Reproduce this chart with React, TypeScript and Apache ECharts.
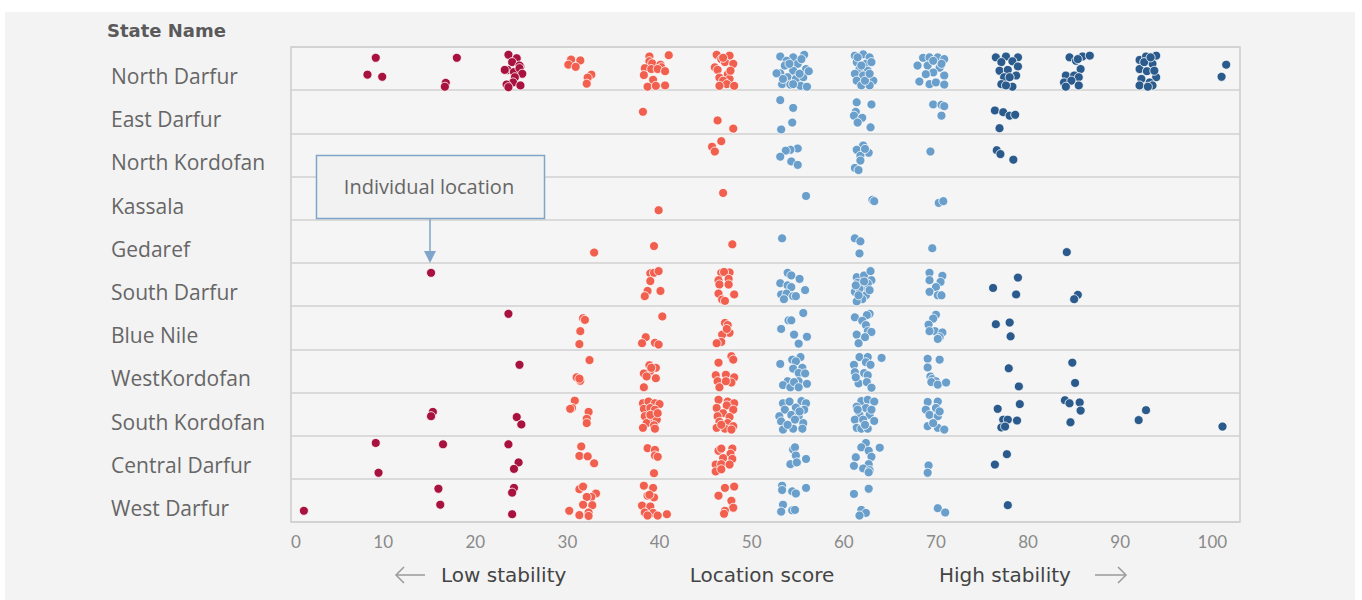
import React, { useEffect, useRef } from "react";
import * as echarts from "echarts";

const states = [
  "North Darfur", "East Darfur", "North Kordofan", "Kassala", "Gedaref", "South Darfur",
  "Blue Nile", "WestKordofan", "South Kordofan", "Central Darfur", "West Darfur",
];

// each point: [location score, vertical jitter within the row (-0.5..0.5)]
const northDarfur: number[][] = [
  [9.2,-0.25],[8.3,0.14],[9.9,0.19],[18.0,-0.25],[16.8,0.33],[16.7,0.42],
  [23.6,-0.32],[24.5,-0.24],[24.0,-0.15],[24.9,-0.05],[24.8,-0.07],[23.5,0.03],[23.2,0.03],[24.2,0.08],[24.8,-0.01],[25.1,0.12],[24.3,0.2],[24.1,0.32],[23.4,0.37],[24.9,0.39],[23.6,0.43],
  [30.4,-0.21],[31.4,-0.19],[30.1,-0.09],[30.9,-0.04],[32.6,0.14],[32.2,0.21],[32.1,0.35],
  [38.9,-0.28],[41.0,-0.31],[38.9,-0.17],[39.2,-0.12],[40.1,-0.09],[40.2,-0.03],[38.4,-0.01],[39.1,0.01],[39.8,0.01],[40.6,0.06],[38.3,0.15],[39.3,0.26],[38.7,0.42],[39.6,0.4],[40.6,0.39],
  [46.2,-0.32],[47.6,-0.3],[46.7,-0.22],[47.1,-0.15],[48.0,-0.11],[46.0,-0.03],[46.3,0.03],[47.4,0.13],[46.5,0.21],[47.6,0.24],[46.9,0.28],[47.3,0.36],[46.5,0.4],[48.1,0.4],[46.9,-0.25],[47.7,0.05],
  [53.1,-0.28],[54.5,-0.26],[55.7,-0.32],[53.8,-0.18],[55.0,-0.11],[55.9,0.01],[53.1,0.11],[54.5,0.05],[53.9,0.2],[54.8,0.24],[55.6,0.2],[53.3,0.36],[54.2,0.37],[55.3,0.4],[56.0,0.42],[53.6,-0.07],[55.4,-0.22],[52.7,0.11],[56.2,0.06],[54.5,0.36],[54.1,-0.11],[55.2,0.12],[53.4,0.24],
  [61.2,-0.3],[62.1,-0.33],[62.8,-0.26],[61.4,-0.15],[62.4,-0.11],[63.0,-0.15],[61.7,0.01],[62.6,0.05],[61.2,0.12],[62.1,0.16],[63.2,0.28],[61.4,0.28],[61.9,0.39],[62.8,0.39],[61.5,-0.26],[62.3,0.28],[61.9,-0.07],[62.8,0.12],
  [68.6,-0.25],[69.3,-0.26],[70.2,-0.26],[70.9,-0.22],[68.0,-0.07],[69.1,-0.07],[70.4,-0.02],[69.7,0.09],[70.9,0.16],[68.2,0.3],[69.3,0.36],[70.0,0.32],[70.9,0.37],[68.9,0.13],[70.6,-0.11],[69.7,-0.18],
  [76.5,-0.26],[77.6,-0.28],[78.9,-0.26],[78.3,-0.17],[77.1,-0.15],[76.9,0.05],[77.8,0.03],[78.9,-0.05],[77.4,0.2],[78.7,0.16],[77.1,0.36],[78.3,0.42],[77.6,0.39],[78.0,0.2],
  [84.5,-0.26],[85.9,-0.28],[86.7,-0.3],[85.2,-0.18],[85.7,0.01],[84.1,0.16],[85.0,0.16],[85.5,0.2],[83.9,0.32],[84.7,0.28],[85.5,0.39],[84.1,0.42],[85.4,-0.22],
  [92.1,-0.2],[92.8,-0.28],[93.9,-0.3],[93.5,-0.11],[92.1,0.01],[92.9,0.06],[93.9,0.2],[92.3,0.24],[93.2,0.32],[92.1,0.39],[93.5,0.39],[92.6,-0.15],[93.7,0.05],[93.0,0.42],[93.3,-0.26],
  [101.5,-0.09],[101.0,0.19],
];
const eastDarfur: number[][] = [
  [38.2,0.0],[46.3,0.2],[48.0,0.39],[53.1,-0.27],[54.5,-0.09],[54.4,0.25],[53.2,0.41],
  [61.4,-0.22],[63.0,-0.17],[61.3,0.0],[61.1,0.09],[62.0,0.14],[61.5,0.25],[62.9,0.36],
  [69.7,-0.17],[70.6,-0.16],[70.9,-0.13],[70.6,0.09],[76.4,-0.03],[77.3,0.01],[78.0,0.09],[78.6,0.07],[76.9,0.38],
];
const northKordofan: number[][] = [
  [46.7,-0.32],[45.7,-0.19],[46.0,-0.08],[55.0,-0.15],[54.2,-0.12],[53.7,-0.1],[53.1,0.04],[54.3,0.15],[55.0,0.23],
  [62.1,-0.22],[61.4,-0.12],[62.7,-0.05],[61.8,0.02],[61.8,0.13],[61.2,0.3],[61.6,0.35],[62.3,-0.14],
  [69.4,-0.08],[76.6,-0.11],[77.0,-0.02],[78.4,0.11],
];
const kassala: number[][] = [
  [46.9,-0.12],[39.9,0.28],[55.9,-0.05],[63.1,0.04],[63.3,0.07],[70.3,0.11],[70.8,0.07],
];
const gedaref: number[][] = [
  [32.9,0.26],[39.4,0.11],[47.9,0.07],[53.3,-0.07],[61.2,-0.07],[61.8,0.0],[61.7,0.28],[69.6,0.16],[84.2,0.25],
];
const southDarfur: number[][] = [
  [15.2,-0.27],
  [39.0,-0.26],[39.4,-0.27],[39.9,-0.31],[39.0,-0.08],[38.7,0.15],[40.1,0.15],[38.4,0.27],
  [46.7,-0.27],[47.6,-0.28],[47.0,-0.29],[46.4,-0.1],[47.5,-0.13],[46.5,0.0],[47.5,0.0],[46.4,0.21],[48.1,0.23],[46.8,0.35],[47.1,0.38],
  [53.9,-0.27],[54.3,-0.21],[55.2,-0.13],[53.1,-0.03],[53.9,0.02],[54.3,0.06],[55.8,0.13],[53.2,0.23],[53.8,0.21],[54.5,0.27],[53.5,0.34],[54.8,0.27],
  [61.4,-0.17],[62.2,-0.21],[62.9,-0.31],[63.0,-0.1],[61.5,-0.04],[62.4,0.06],[61.2,0.17],[62.4,0.25],[62.0,0.34],[61.4,0.39],[61.7,0.1],[62.6,-0.02],[61.3,0.02],[62.2,-0.07],[62.8,0.13],[61.6,0.25],
  [69.3,-0.27],[70.7,-0.2],[69.3,-0.1],[70.5,-0.06],[70.0,0.06],[69.3,0.17],[70.2,0.25],[70.6,0.25],
  [78.9,-0.16],[76.2,0.08],[78.7,0.23],[85.4,0.24],[85.0,0.34],
];
const blueNile: number[][] = [
  [23.6,-0.32],
  [31.7,-0.22],[31.9,-0.18],[31.4,0.08],[31.3,0.38],
  [40.3,-0.26],[38.5,0.22],[38.1,0.36],[39.5,0.35],[39.9,0.39],
  [47.1,-0.11],[47.4,-0.06],[47.6,0.12],[46.8,0.16],[46.7,0.33],[46.2,0.36],[47.3,0.03],
  [55.6,-0.34],[54.0,-0.17],[54.3,-0.17],[53.2,0.03],[54.6,0.16],[56.0,0.21],[55.1,0.37],
  [61.2,-0.24],[62.8,-0.32],[62.5,-0.29],[62.0,-0.16],[62.4,-0.06],[62.6,0.08],[63.0,0.1],[61.4,0.16],[62.3,0.22],[61.6,0.36],
  [70.0,-0.3],[69.7,-0.21],[69.2,-0.07],[69.9,0.08],[70.7,0.11],[70.4,0.22],[70.2,0.26],[69.3,0.08],
  [76.5,-0.08],[78.0,-0.12],[78.1,0.2],
];
const westKordofan: number[][] = [
  [24.8,-0.14],
  [32.4,-0.25],[31.0,0.15],[31.4,0.23],[31.3,0.18],
  [38.9,-0.13],[39.6,-0.07],[39.0,0.0],[38.3,0.06],[38.6,0.13],[39.6,0.17],[38.3,0.38],[39.1,-0.07],
  [47.8,-0.34],[48.0,-0.26],[46.4,-0.19],[46.1,0.1],[47.2,0.09],[48.1,0.15],[46.7,0.27],[46.3,0.24],[47.8,0.27],[46.5,0.38],[47.2,0.24],
  [53.1,-0.16],[54.4,-0.26],[55.3,-0.32],[54.8,-0.22],[54.5,-0.05],[55.5,-0.07],[55.1,0.05],[55.8,0.06],[53.9,0.24],[53.4,0.33],[54.2,0.38],[55.1,0.24],[54.6,0.26],[56.0,0.3],[55.1,0.38],
  [61.7,-0.32],[62.6,-0.32],[64.1,-0.3],[62.4,-0.2],[62.9,-0.14],[61.1,-0.14],[61.2,0.03],[62.2,0.05],[62.6,0.1],[61.6,0.29],[62.5,0.26],[63.0,0.39],[61.3,0.15],
  [69.1,-0.28],[70.4,-0.26],[69.1,-0.08],[69.4,0.13],[69.6,0.19],[70.0,0.24],[69.5,0.26],[70.2,0.32],[71.1,0.27],
  [77.9,-0.06],[79.0,0.36],[84.8,-0.19],[85.1,0.28],
];
const southKordofan: number[][] = [
  [15.4,-0.05],[15.2,0.05],[24.5,0.07],[25.0,0.24],
  [30.8,-0.31],[30.5,-0.14],[30.3,-0.12],[32.3,-0.05],[32.1,0.11],[32.1,0.21],
  [38.2,-0.25],[38.8,-0.29],[39.5,-0.25],[40.0,-0.23],[38.3,-0.12],[39.0,-0.14],[39.5,-0.1],[38.4,0.05],[39.1,0.09],[39.7,0.13],[38.6,0.21],[39.4,0.26],[38.2,0.32],[39.5,0.34],[39.0,0.02],[39.8,-0.02],
  [46.4,-0.33],[47.4,-0.29],[48.1,-0.25],[46.2,-0.14],[47.3,-0.2],[48.0,-0.1],[46.9,-0.02],[46.3,0.05],[47.6,0.07],[46.5,0.18],[47.4,0.21],[48.0,0.28],[46.2,0.32],[47.1,0.34],[47.8,0.36],[46.7,0.25],
  [53.4,-0.25],[54.1,-0.29],[55.4,-0.3],[55.9,-0.25],[53.6,-0.1],[54.8,-0.15],[55.7,-0.1],[53.0,0.05],[54.3,0.02],[55.1,0.05],[53.2,0.17],[54.7,0.13],[55.6,0.21],[53.4,0.36],[54.5,0.34],[55.5,0.34],[53.9,0.25],[55.2,-0.06],
  [61.9,-0.3],[62.6,-0.33],[63.3,-0.29],[61.4,-0.17],[62.4,-0.14],[61.7,0.02],[62.8,0.02],[61.2,0.13],[62.1,0.13],[63.3,0.16],[61.4,0.32],[61.9,0.34],[62.6,0.34],[62.3,0.25],[61.5,-0.1],[63.0,-0.1],
  [69.1,-0.28],[70.2,-0.29],[68.9,-0.1],[70.0,-0.14],[69.3,0.02],[70.2,0.05],[69.1,0.28],[70.2,0.32],[70.9,0.36],[69.7,0.21],[70.4,-0.06],
  [76.7,-0.12],[79.1,-0.23],[77.3,0.13],[77.8,0.13],[78.8,0.15],[77.1,0.31],[77.5,0.29],
  [84.0,-0.32],[84.5,-0.25],[85.6,-0.27],[85.7,-0.08],[84.6,0.19],[92.8,-0.09],[92.0,0.14],[101.1,0.29],
];
const centralDarfur: number[][] = [
  [9.2,-0.33],[9.5,0.36],[16.5,-0.3],[23.6,-0.3],[24.7,0.12],[24.2,0.27],
  [31.5,-0.25],[31.3,-0.03],[32.2,-0.02],[32.9,0.14],
  [38.7,-0.21],[39.5,-0.17],[39.5,-0.04],[39.8,-0.01],[39.4,0.37],
  [46.4,-0.15],[46.7,-0.2],[47.9,-0.2],[47.7,-0.08],[46.9,0.02],[47.9,0.04],[46.1,0.17],[46.7,0.16],[47.6,0.17],[46.1,0.33],[46.7,0.28],
  [54.5,-0.18],[54.7,-0.23],[54.8,-0.04],[55.9,0.04],[54.2,0.16],[54.9,0.12],
  [62.4,-0.33],[61.9,-0.23],[62.7,-0.15],[63.9,-0.22],[61.3,0.0],[63.0,-0.01],[61.1,0.2],[62.7,0.16],[62.1,0.26],[62.8,0.3],[62.7,0.35],
  [69.2,0.19],[69.1,0.36],[77.7,-0.07],[76.4,0.17],
];
const westDarfur: number[][] = [
  [1.4,0.24],[16.0,-0.27],[16.2,0.1],[24.2,-0.29],[24.0,-0.18],[24.0,0.32],
  [31.3,-0.26],[31.7,-0.32],[33.1,-0.16],[32.6,-0.08],[32.1,-0.08],[31.7,0.1],[32.7,0.11],[30.2,0.24],[32.3,0.28],[31.3,0.34],[32.3,0.36],
  [38.3,-0.34],[39.3,-0.29],[38.7,-0.11],[39.4,-0.07],[38.9,-0.13],[38.1,0.12],[39.0,0.14],[38.4,0.28],[39.3,0.29],[39.8,0.35],[40.8,0.32],[38.7,0.35],
  [47.1,-0.29],[48.1,-0.32],[46.4,-0.11],[47.8,0.01],[48.0,0.17],[47.1,0.24],[47.0,0.31],
  [53.3,-0.34],[53.3,-0.24],[54.4,-0.21],[54.8,-0.16],[55.9,-0.29],[53.4,0.1],[53.2,0.26],[54.4,0.23],[54.7,0.22],
  [61.1,-0.15],[62.7,-0.27],[61.9,0.22],[62.4,0.29],[61.7,0.35],
  [70.2,0.18],[71.0,0.28],[77.8,0.11],
];

const stateValues = [
  northDarfur, eastDarfur, northKordofan, kassala, gedaref, southDarfur,
  blueNile, westKordofan, southKordofan, centralDarfur, westDarfur,
];

const bandLimits = [28, 50, 75];
const bandColors = ["#a8123e", "#f1604f", "#6a9fcb", "#2b5b8c"];
const tickValues = [0, 10, 20, 30, 40, 50, 60, 70, 80, 90, 100];

const GRID = { left: 291, top: 47, width: 949, height: 475 };

export default function App() {
  const ref = useRef<HTMLDivElement>(null);
  useEffect(() => {
    if (!ref.current) return;
    const chart = echarts.init(ref.current, undefined, { renderer: "svg" });
    const groups: number[][][] = bandColors.map(() => []);
    stateValues.forEach((pts, row) => {
      pts.forEach(([v, j]) => {
        let b = 0;
        while (b < bandLimits.length && v >= bandLimits[b]) b++;
        groups[b].push([v, row + j]);
      });
    });
    const font = "Lato, 'Open Sans', sans-serif";
    const wide = "'Open Sans', Lato, sans-serif";
    const spaced = "'DejaVu Sans', 'Open Sans', sans-serif";
    chart.setOption({
      animation: false,
      backgroundColor: "#ffffff",
      textStyle: { fontFamily: font },
      grid: {
        left: GRID.left, top: GRID.top, width: GRID.width, height: GRID.height,
        show: true, backgroundColor: "#f5f5f5", borderColor: "#cccccc", borderWidth: 1.5,
      },
      xAxis: {
        type: "value", min: 0, max: 103, interval: 10,
        axisLine: { show: false }, axisTick: { show: false }, splitLine: { show: false },
        axisLabel: {
          color: "#8a8a8a", fontSize: 17, fontFamily: font, margin: 11,
          alignMinLabel: "left",
          formatter: (v: number) => (tickValues.includes(v) ? String(v) : ""),
        },
      },
      yAxis: [
        {
          type: "category", data: states, inverse: true, boundaryGap: true,
          axisLine: { show: false }, axisTick: { show: false },
          splitLine: { show: true, interval: 0, lineStyle: { color: "#d0d0d0", width: 1.5 } },
          axisLabel: {
            color: "#666666", fontSize: 21, fontFamily: wide, align: "left", margin: 180, interval: 0,
            verticalAlign: "top", lineHeight: 15,
          },
        },
        { type: "value", min: -0.5, max: 10.5, inverse: true, show: false },
      ],
      series: groups.map((data, i) => ({
        type: "scatter", yAxisIndex: 1, data, symbolSize: 9,
        itemStyle: { color: bandColors[i], borderColor: "#ffffff", borderWidth: 0.8, opacity: 1 },
        z: 3,
      })),
      graphic: [
        { type: "rect", z: -10, silent: true, shape: { x: 5, y: 12, width: 1350, height: 588 }, style: { fill: "#f3f3f3" } },
        { type: "text", x: 107, y: 30, style: { text: "State Name", fill: "#5a5a5a", font: `bold 18px ${spaced}`, verticalAlign: "middle" } },
        { type: "rect", z: 10, shape: { x: 316.5, y: 155.5, width: 228, height: 63 }, style: { fill: "#f2f2f2", stroke: "#7fa6ca", lineWidth: 1.5 } },
        { type: "text", z: 11, x: 429, y: 186, style: { text: "Individual location", fill: "#666666", font: `20px ${wide}`, align: "center", verticalAlign: "middle" } },
        { type: "line", z: 10, shape: { x1: 430, y1: 219, x2: 430, y2: 253 }, style: { stroke: "#7fa6ca", lineWidth: 1.5 } },
        { type: "polygon", z: 10, shape: { points: [[424, 251], [436, 251], [430, 263]] }, style: { fill: "#7fa6ca" } },
        { type: "line", shape: { x1: 396, y1: 575, x2: 425, y2: 575 }, style: { stroke: "#9a9a9a", lineWidth: 1.5 } },
        { type: "polyline", shape: { points: [[404, 567], [396, 575], [404, 583]] }, style: { stroke: "#9a9a9a", lineWidth: 1.5, fill: "none" } },
        { type: "text", x: 441, y: 575, style: { text: "Low stability", fill: "#444444", font: `20px ${spaced}`, verticalAlign: "middle" } },
        { type: "text", x: 762, y: 575, style: { text: "Location score", fill: "#444444", font: `20px ${spaced}`, align: "center", verticalAlign: "middle" } },
        { type: "text", x: 939, y: 575, style: { text: "High stability", fill: "#444444", font: `20px ${spaced}`, verticalAlign: "middle" } },
        { type: "line", shape: { x1: 1095, y1: 575, x2: 1126, y2: 575 }, style: { stroke: "#9a9a9a", lineWidth: 1.5 } },
        { type: "polyline", shape: { points: [[1118, 567], [1126, 575], [1118, 583]] }, style: { stroke: "#9a9a9a", lineWidth: 1.5, fill: "none" } },
      ],
    });
    return () => chart.dispose();
  }, []);
  return <div ref={ref} style={{ position: "absolute", left: 0, top: 0, width: 1362, height: 600 }} />;
}
